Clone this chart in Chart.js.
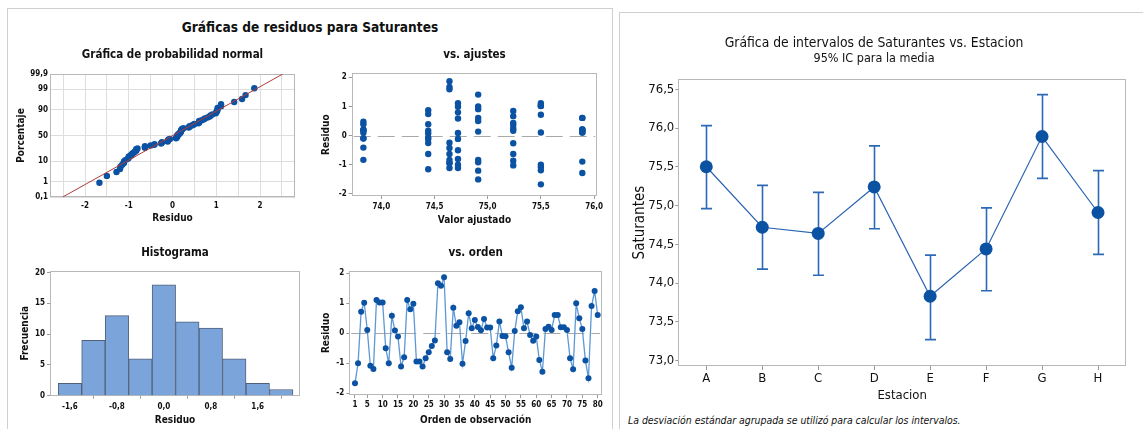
<!DOCTYPE html>
<html>
<head>
<meta charset="utf-8">
<script src="https://cdn.jsdelivr.net/npm/chart.js@4.4.1/dist/chart.umd.min.js"></script>
<style>
  html, body { margin: 0; padding: 0; background: #fff; }
  body { width: 1143px; height: 429px; overflow: hidden; position: relative; }
  canvas { position: absolute; display: block; }
  .frame { position: absolute; border: 1px solid #cfcfcf; }
  .txt { position: absolute; white-space: nowrap; color: #111; }
</style>
</head>
<body>
<div class="frame" style="left:7px;top:8px;width:604px;height:440px"></div>
<div class="frame" style="left:619px;top:12px;width:540px;height:440px"></div>
<div class="txt" id="mainTitle" style="left:310px;top:27px;transform:translate(-50%,-50%);font-weight:bold;font-size:13.6px">Gráficas de residuos para Saturantes</div>
<div class="txt" id="note" style="left:628px;top:420px;transform:translateY(-50%);font-style:italic;font-size:10.4px">La desviación estándar agrupada se utilizó para calcular los intervalos.</div>

<canvas id="cProb"  width="291" height="184" style="left:8px;top:44px"></canvas>
<canvas id="cFit"   width="296" height="186" style="left:310px;top:44px"></canvas>
<canvas id="cHist"  width="292" height="187" style="left:8px;top:242px"></canvas>
<canvas id="cOrder" width="298" height="187" style="left:308px;top:242px"></canvas>
<canvas id="cInt"   width="524" height="404" style="left:622px;top:25px"></canvas>

<script>
// ---- data -------------------------------------------------------------
const stations = ['A', 'B', 'C', 'D', 'E', 'F', 'G', 'H'];
const stationMeans = [75.50, 74.72, 74.64, 75.24, 73.83, 74.44, 75.89, 74.91];
const ciLower = [74.96, 74.18, 74.10, 74.70, 73.27, 73.90, 75.35, 74.37];
const ciUpper = [76.03, 75.26, 75.17, 75.77, 74.36, 74.97, 76.43, 75.45];

// residuals in observation order, 10 observations per station (A..H)
const obsPerStation = 10;
const residuals = [
  -1.67, -1.00, 0.72, 1.02, 0.11, -1.08, -1.19, 1.11, 1.03, 1.03,
  -0.50, -1.00, 0.59, 0.09, -0.11, -1.11, -0.80, 1.11, 0.80, 0.99,
  -0.94, -0.94, -1.11, -0.83, -0.63, -0.42, -0.24, 1.67, 1.59, 1.87,
  -0.63, -0.86, 0.85, 0.25, 0.37, -1.02, -0.26, 0.67, 0.17, 0.44,
   0.21, 0.10, 0.48, 0.19, 0.19, -0.83, -0.41, 0.39, -0.09, -0.10,
  -0.63, -1.15, 0.08, 0.74, 0.87, 0.17, 0.39, -0.06, -0.25, -0.11,
  -0.89, -1.28, 0.14, 0.22, 0.11, 0.61, 0.61, 0.20, 0.20, 0.11,
  -0.83, -1.20, 1.00, 0.50, 0.14, -0.91, -1.50, 0.91, 1.41, 0.61
];

const histMidpoints = [-1.6, -1.2, -0.8, -0.4, 0.0, 0.4, 0.8, 1.2, 1.6, 2.0];
const histCounts = [2, 9, 13, 6, 18, 12, 11, 6, 2, 1];
const histTicks = [-1.6, -0.8, 0.0, 0.8, 1.6];
const histYTicks = [0, 5, 10, 15, 20];

const probPercents = [0.1, 1, 10, 50, 90, 99, 99.9];
const probPercentLabels = ['0,1', '1', '10', '50', '90', '99', '99,9'];
const probXTicks = [-2.5, -2, -1.5, -1, -0.5, 0, 0.5, 1, 1.5, 2, 2.5];
const residTicks = [-2, -1, 0, 1, 2];
const fitTicks = [74.0, 74.5, 75.0, 75.5, 76.0];
const orderTicks = [1, 5, 10, 15, 20, 25, 30, 35, 40, 45, 50, 55, 60, 65, 70, 75, 80];
const intervalTicks = [73.0, 73.5, 74.0, 74.5, 75.0, 75.5, 76.0, 76.5];

// ---- style ------------------------------------------------------------
const NARROW = "'Liberation Sans Narrow', 'DejaVu Sans Condensed', 'Liberation Sans', sans-serif";
document.getElementById('mainTitle').style.fontFamily = NARROW;
document.getElementById('note').style.fontFamily = NARROW;
const DOT = '#0b52a3';
const INK = '#111111';
const BOX = '#b8b8b8';
Chart.defaults.font.family = NARROW;
Chart.defaults.color = INK;
Chart.defaults.animation = false;
Chart.defaults.responsive = false;
Chart.defaults.plugins.legend.display = false;
Chart.defaults.plugins.tooltip.enabled = false;

const comma = (v, d) => v.toFixed(d).replace('.', ',');
const setTicks = values => scale => { scale.ticks = values.map(v => ({ value: v })); };
const fixW = w => scale => { scale.width = w; };
const fixH = h => scale => { scale.height = h; };

// light frame around each plotting region
const plotFrame = {
  id: 'plotFrame',
  beforeDatasetsDraw(chart) {
    const { ctx, chartArea: a } = chart;
    ctx.save();
    ctx.strokeStyle = BOX;
    ctx.lineWidth = 1;
    ctx.strokeRect(Math.round(a.left) + 0.5, Math.round(a.top) + 0.5,
                   Math.round(a.right - a.left) - 1, Math.round(a.bottom - a.top) - 1);
    ctx.restore();
  }
};

// dashed reference line at residual = 0
const zeroLine = {
  id: 'zeroLine',
  beforeDatasetsDraw(chart) {
    const { ctx, chartArea: a } = chart;
    const y = Math.round(chart.scales.y.getPixelForValue(0)) + 0.5;
    ctx.save();
    ctx.strokeStyle = '#a9a9a9';
    ctx.lineWidth = 1;
    ctx.setLineDash([17, 7]);
    ctx.beginPath();
    ctx.moveTo(a.left + 2, y);
    ctx.lineTo(a.right - 2, y);
    ctx.stroke();
    ctx.restore();
  }
};

// 95% confidence interval whiskers
function intervalBars(lows, highs) {
  return {
    id: 'intervalBars',
    beforeDatasetsDraw(chart) {
      const { ctx } = chart;
      const xs = chart.scales.x, ys = chart.scales.y;
      ctx.save();
      ctx.strokeStyle = '#2d6ab6';
      ctx.lineWidth = 1.6;
      lows.forEach((lo, i) => {
        const x = Math.round(xs.getPixelForValue(i)) + 0.5;
        const y1 = ys.getPixelForValue(lo), y2 = ys.getPixelForValue(highs[i]);
        ctx.beginPath();
        ctx.moveTo(x, y1); ctx.lineTo(x, y2);
        ctx.moveTo(x - 5.5, y1); ctx.lineTo(x + 5.5, y1);
        ctx.moveTo(x - 5.5, y2); ctx.lineTo(x + 5.5, y2);
        ctx.stroke();
      });
      ctx.restore();
    }
  };
}

// inverse standard normal CDF (Acklam)
function normInv(p) {
  const a = [-3.969683028665376e+01, 2.209460984245205e+02, -2.759285104469687e+02, 1.383577518672690e+02, -3.066479806614716e+01, 2.506628277459239e+00];
  const b = [-5.447609879822406e+01, 1.615858368580409e+02, -1.556989798598866e+02, 6.680131188771972e+01, -1.328068155288572e+01];
  const c = [-7.784894002430293e-03, -3.223964580411365e-01, -2.400758277161838e+00, -2.549671010115818e+00, 4.374664141464968e+00, 2.938163982698783e+00];
  const d = [7.784695709041462e-03, 3.224671290700398e-01, 2.445134137142996e+00, 3.754408661907416e+00];
  const pl = 0.02425;
  let q, r;
  if (p < pl) {
    q = Math.sqrt(-2 * Math.log(p));
    return (((((c[0]*q+c[1])*q+c[2])*q+c[3])*q+c[4])*q+c[5]) / ((((d[0]*q+d[1])*q+d[2])*q+d[3])*q+1);
  }
  if (p <= 1 - pl) {
    q = p - 0.5; r = q * q;
    return (((((a[0]*r+a[1])*r+a[2])*r+a[3])*r+a[4])*r+a[5])*q / (((((b[0]*r+b[1])*r+b[2])*r+b[3])*r+b[4])*r+1);
  }
  q = Math.sqrt(-2 * Math.log(1 - p));
  return -(((((c[0]*q+c[1])*q+c[2])*q+c[3])*q+c[4])*q+c[5]) / ((((d[0]*q+d[1])*q+d[2])*q+d[3])*q+1);
}

const tickFont = { size: 8, weight: 'bold' };
const axisTitleFont = { size: 10, weight: 'bold' };
const subTitle = (text, padTop, padBottom) => ({
  display: true, text, fullSize: false,
  font: { size: 11.5, weight: 'bold' }, color: INK,
  padding: { top: padTop, bottom: padBottom }
});
const smallTickGrid = { display: true, drawOnChartArea: false, drawTicks: true, tickLength: 3, color: '#9a9a9a' };

// ---- normal probability plot ------------------------------------------
const n = residuals.length;
const sorted = residuals.slice().sort((p, q) => p - q);
const probPoints = sorted.map((r, i) => ({ x: r, y: normInv((i + 1 - 0.3) / (n + 0.4)) }));
const mean = residuals.reduce((s, v) => s + v, 0) / n;
const sd = Math.sqrt(residuals.reduce((s, v) => s + (v - mean) ** 2, 0) / (n - 1));
const zLo = normInv(probPercents[0] / 100), zHi = normInv(probPercents[probPercents.length - 1] / 100);
const probZ = probPercents.map(p => normInv(p / 100));

new Chart(document.getElementById('cProb'), {
  type: 'scatter',
  data: {
    datasets: [
      { data: [{ x: mean + sd * zLo, y: zLo }, { x: mean + sd * zHi, y: zHi }],
        showLine: true, borderColor: '#b23b3b', borderWidth: 1, pointRadius: 0 },
      { data: probPoints, pointRadius: 3.2, pointBackgroundColor: DOT, pointBorderWidth: 0 }
    ]
  },
  options: {
    layout: { padding: { right: 2 } },
    plugins: { title: subTitle('Gráfica de probabilidad normal', 4.1, 12.1) },
    scales: {
      x: {
        type: 'linear', min: -2.8, max: 2.8,
        afterBuildTicks: setTicks(probXTicks), afterFit: fixH(31),
        grid: { color: '#dedede', drawTicks: false },
        border: { display: false },
        ticks: { font: tickFont, padding: 4, autoSkip: false, maxRotation: 0,
                 callback: v => Number.isInteger(v) ? String(v) : '' },
        title: { display: true, text: 'Residuo', font: axisTitleFont, padding: { top: 0, bottom: 4 } }
      },
      y: {
        min: zLo, max: zHi,
        afterBuildTicks: setTicks(probZ), afterFit: fixW(42),
        grid: { color: '#dedede', drawTicks: false },
        border: { display: false },
        ticks: { font: tickFont, padding: 2, autoSkip: false,
                 callback: (v, i) => probPercentLabels[i] },
        title: { display: true, text: 'Porcentaje', font: axisTitleFont, padding: { top: 7, bottom: 0 } }
      }
    }
  },
  plugins: [plotFrame]
});

// ---- residuals vs fitted values ----------------------------------------
const fitPoints = residuals.map((r, i) => ({ x: stationMeans[Math.floor(i / obsPerStation)], y: r }));

new Chart(document.getElementById('cFit'), {
  type: 'scatter',
  data: { datasets: [{ data: fitPoints, pointRadius: 3.2, pointBackgroundColor: DOT, pointBorderWidth: 0 }] },
  options: {
    layout: { padding: { right: 3.3 } },
    plugins: { title: subTitle('vs. ajustes', 4.1, 11.4) },
    scales: {
      x: {
        type: 'linear', min: 73.72, max: 76.03,
        afterBuildTicks: setTicks(fitTicks), afterFit: fixH(34),
        grid: smallTickGrid, border: { display: false },
        ticks: { font: tickFont, padding: 3, autoSkip: false, maxRotation: 0, callback: v => comma(v, 1) },
        title: { display: true, text: 'Valor ajustado', font: axisTitleFont, padding: { top: 0, bottom: 4 } }
      },
      y: {
        min: -2.07, max: 2.14,
        afterBuildTicks: setTicks(residTicks), afterFit: fixW(41.7),
        grid: smallTickGrid, border: { display: false },
        ticks: { font: tickFont, padding: 2, autoSkip: false },
        title: { display: true, text: 'Residuo', font: axisTitleFont, padding: { top: 10.7, bottom: 0 } }
      }
    }
  },
  plugins: [plotFrame, zeroLine]
});

// ---- histogram ----------------------------------------------------------
new Chart(document.getElementById('cHist'), {
  type: 'bar',
  data: {
    datasets: [{
      data: histMidpoints.map((m, i) => ({ x: m, y: histCounts[i] })),
      backgroundColor: '#7ba5da', borderColor: '#50607a', borderWidth: 1,
      barPercentage: 1, categoryPercentage: 1, grouped: false
    }]
  },
  options: {
    plugins: { title: subTitle('Histograma', 4.4, 10.5) },
    scales: {
      x: {
        type: 'linear', min: -1.94, max: 2.32, offset: false,
        afterBuildTicks: setTicks(histTicks), afterFit: fixH(33.3),
        grid: smallTickGrid, border: { display: false },
        ticks: { font: tickFont, padding: 3, autoSkip: false, maxRotation: 0, callback: v => comma(v, 1) },
        title: { display: true, text: 'Residuo', font: axisTitleFont, padding: { top: 0, bottom: 3 } }
      },
      y: {
        min: 0, max: 20.3,
        afterBuildTicks: setTicks(histYTicks), afterFit: fixW(42),
        grid: smallTickGrid, border: { display: false },
        ticks: { font: tickFont, padding: 2, autoSkip: false },
        title: { display: true, text: 'Frecuencia', font: axisTitleFont, padding: { top: 11.3, bottom: 0 } }
      }
    }
  },
  plugins: [plotFrame]
});

// ---- residuals vs observation order -------------------------------------
new Chart(document.getElementById('cOrder'), {
  type: 'scatter',
  data: {
    datasets: [{
      data: residuals.map((r, i) => ({ x: i + 1, y: r })),
      showLine: true, borderColor: '#5c98d6', borderWidth: 1.3,
      pointRadius: 3, pointBackgroundColor: DOT, pointBorderWidth: 0
    }]
  },
  options: {
    layout: { padding: { right: 3.3 } },
    plugins: { title: subTitle('vs. orden', 4.4, 10.5) },
    scales: {
      x: {
        type: 'linear', min: -0.85, max: 81.4,
        afterBuildTicks: setTicks(orderTicks), afterFit: fixH(34),
        grid: smallTickGrid, border: { display: false },
        ticks: { font: tickFont, padding: 2, autoSkip: false, maxRotation: 0 },
        title: { display: true, text: 'Orden de observación', font: axisTitleFont, padding: { top: 0, bottom: 3 } }
      },
      y: {
        min: -2.06, max: 2.09,
        afterBuildTicks: setTicks(residTicks), afterFit: fixW(41.3),
        grid: smallTickGrid, border: { display: false },
        ticks: { font: tickFont, padding: 2, autoSkip: false },
        title: { display: true, text: 'Residuo', font: axisTitleFont, padding: { top: 12.5, bottom: 0 } }
      }
    }
  },
  plugins: [plotFrame, zeroLine]
});

// ---- interval plot of station means --------------------------------------
new Chart(document.getElementById('cInt'), {
  type: 'line',
  data: {
    labels: stations,
    datasets: [{
      data: stationMeans, borderColor: '#2a64b0', borderWidth: 1.2,
      pointRadius: 6.5, pointBackgroundColor: DOT, pointBorderWidth: 0
    }]
  },
  options: {
    layout: { padding: { right: 20 } },
    plugins: {
      title: { display: true, text: 'Gráfica de intervalos de Saturantes vs. Estacion',
               font: { size: 13.8, weight: 'normal' }, color: INK, padding: { top: 9.7, bottom: 0 } },
      subtitle: { display: true, text: '95% IC para la media',
                  font: { size: 12.5, weight: 'normal' }, color: INK, padding: { top: 0, bottom: 12.9 } }
    },
    scales: {
      x: {
        type: 'category', offset: true, afterFit: fixH(63),
        grid: { display: true, drawOnChartArea: false, tickLength: 4, color: '#9a9a9a', offset: false },
        border: { display: false },
        ticks: { font: { size: 13 }, padding: 1 },
        title: { display: true, text: 'Estacion', font: { size: 13 }, padding: { top: 0, bottom: 26 } }
      },
      y: {
        min: 72.93, max: 76.63,
        afterBuildTicks: setTicks(intervalTicks), afterFit: fixW(56.3),
        grid: { display: true, drawOnChartArea: false, tickLength: 3, color: '#9a9a9a' },
        border: { display: false },
        ticks: { font: { size: 13 }, padding: 1, autoSkip: false, callback: v => comma(v, 1) },
        title: { display: true, text: 'Saturantes', font: { size: 15 }, padding: { top: 9, bottom: 0 } }
      }
    }
  },
  plugins: [plotFrame, intervalBars(ciLower, ciUpper)]
});
</script>
</body>
</html>
